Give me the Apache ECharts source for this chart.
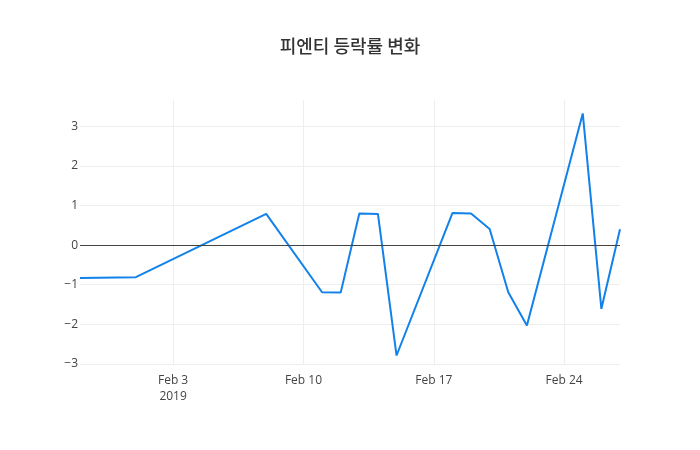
<!DOCTYPE html>
<html>
<head>
<meta charset="utf-8">
<script src="https://cdn.jsdelivr.net/npm/echarts@6/dist/echarts.min.js"></script>
<style>html,body{margin:0;padding:0;background:#fff}#c{width:700px;height:450px}</style>
</head>
<body>
<div id="c"></div>
<script>
var dates = ['2019-01-29','2019-02-01','2019-02-08','2019-02-11','2019-02-12','2019-02-13','2019-02-14','2019-02-15','2019-02-18','2019-02-19','2019-02-20','2019-02-21','2019-02-22','2019-02-25','2019-02-26','2019-02-27'];
var changes = [-0.83,-0.81,0.79,-1.19,-1.20,0.80,0.79,-2.79,0.81,0.80,0.41,-1.19,-2.03,3.33,-1.61,0.40];
var xTickDates = ['2019-02-03','2019-02-10','2019-02-17','2019-02-24'];
var yTicks = [-3,-2,-1,0,1,2,3];
var titleText = '피엔티 등락률 변화';

function ts(s){ return new Date(s + 'T00:00:00Z').getTime(); }
var mon = ['Jan','Feb','Mar','Apr','May','Jun','Jul','Aug','Sep','Oct','Nov','Dec'];
var xTicks = xTickDates.map(ts);
var seriesData = dates.map(function(d,i){ return [ts(d), changes[i]]; });

var chart = echarts.init(document.getElementById('c'), null, {renderer:'canvas'});
var font = '"Open Sans", "Noto Sans CJK KR", sans-serif';
chart.setOption({
  animation: false,
  backgroundColor: '#fff',
  title: {
    text: titleText, left: 'center', top: 32,
    textStyle: {fontFamily: '"Noto Sans CJK KR", "Open Sans", sans-serif', fontSize: 18, fontWeight: 500, color: '#333'}
  },
  grid: {left: 80, right: 80, top: 100, bottom: 85},
  xAxis: {
    type: 'value',
    min: ts(dates[0]), max: ts(dates[dates.length-1]),
    axisLine: {show: false},
    axisTick: {show: false, customValues: xTicks},
    splitLine: {show: true, lineStyle: {color: '#eee', width: 1}},
    axisLabel: {
      customValues: xTicks,
      showMinLabel: true, showMaxLabel: true,
      color: '#444', fontSize: 12, fontFamily: font, margin: 8, lineHeight: 16,
      formatter: function(v){
        var d = new Date(v);
        var s = mon[d.getUTCMonth()] + ' ' + d.getUTCDate();
        if (v === xTicks[0]) s += '\n' + d.getUTCFullYear();
        return s;
      }
    }
  },
  yAxis: {
    type: 'value',
    min: -3.03, max: 3.67,
    axisLine: {show: false},
    axisTick: {show: false, customValues: yTicks},
    splitLine: {show: true, lineStyle: {color: '#eee', width: 1}},
    axisLabel: {
      customValues: yTicks,
      color: '#444', fontSize: 12, fontFamily: font, margin: 2,
      formatter: function(v){ return v < 0 ? '\u2212' + Math.abs(v) : String(v); }
    }
  },
  series: [{
    type: 'line',
    data: seriesData,
    showSymbol: false,
    lineStyle: {color: '#1282ea', width: 2},
    itemStyle: {color: '#1282ea'},
    markLine: {
      silent: true, symbol: 'none', label: {show: false},
      lineStyle: {color: '#444', width: 1, type: 'solid'},
      data: [{yAxis: 0}]
    }
  }]
});
</script>
</body>
</html>
